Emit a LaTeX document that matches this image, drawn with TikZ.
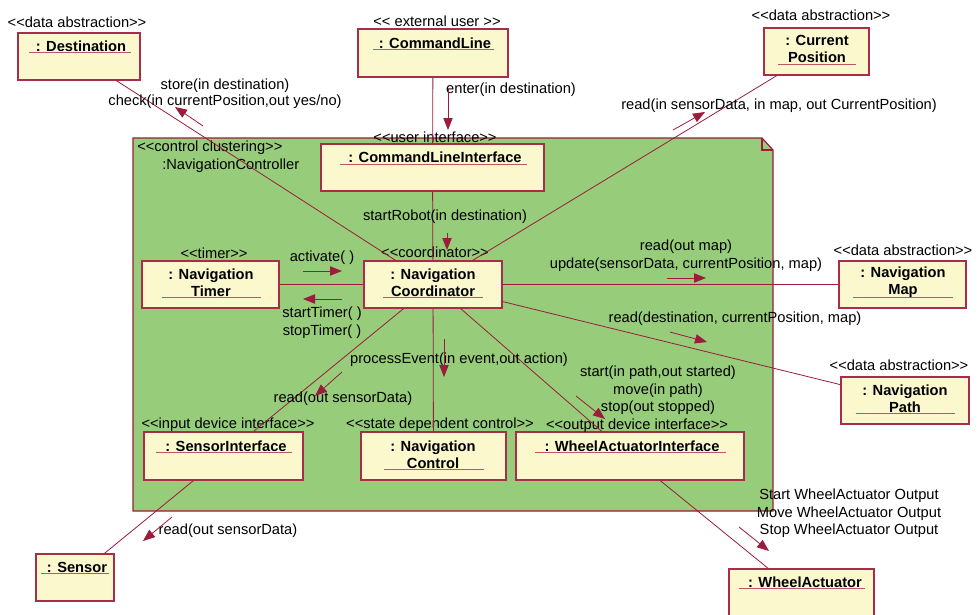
\documentclass[tikz,border=0pt]{standalone}
\usepackage{fontspec}
\newfontfamily\labfont{Liberation Sans}
\usetikzlibrary{arrows.meta,fit}
\definecolor{edgered}{RGB}{155,28,60}
\definecolor{boxline}{RGB}{168,45,75}
\definecolor{ulred}{RGB}{190,85,105}
\definecolor{boxfill}{RGB}{251,248,206}
\definecolor{pkgfill}{RGB}{150,204,122}
\begin{document}
\begin{tikzpicture}[x=0.75pt,y=-0.75pt,
  font=\labfont\fontsize{11}{13}\selectfont,
  obj/.style={draw=boxline, fill=boxfill, line width=0.9pt, inner sep=0pt},
  conn/.style={draw=edgered, line width=0.6pt},
  msg/.style={draw=edgered, line width=0.6pt, -{Triangle[length=9pt,width=7pt]}},
  stereo/.style={inner sep=0pt},
  lbl/.style={inner sep=0pt, align=center},
  oname/.style={inner sep=0pt, align=center, font=\labfont\bfseries\fontsize{11}{12.8}\selectfont},
  ul/.style={draw=ulred, line width=0.6pt}]
\useasboundingbox (0,0) rectangle (980,614);

% package
\draw[draw=edgered, fill=pkgfill, line width=0.9pt]
  (133,138) -- (762,138) -- (773,150) -- (773,511) -- (133,511) -- cycle;
\draw[draw=edgered, line width=0.9pt] (762,138) -- (762,150) -- (773,150);
\node[inner sep=0pt, fit={(133,138) (773,511)}] (pkg) {};
\node[stereo, anchor=west] (pkgS) at (137,148) {<<control clustering>>};
\node[stereo, anchor=west] (pkgN) at (162,166) {:NavigationController};

% object boxes
\node[obj, fit={(18,33) (140,80)}] (dest) {};
\node[obj, fit={(358,29) (508,77)}] (cmd) {};
\node[obj, fit={(764,28) (869,75)}] (curpos) {};
\node[obj, fit={(321,144) (544,191)}] (cli) {};
\node[obj, fit={(142,261) (279,308)}] (timer) {};
\node[obj, fit={(364,261) (502,308)}] (coord) {};
\node[obj, fit={(839,261) (966,308)}] (map) {};
\node[obj, fit={(841,377) (969,424)}] (path) {};
\node[obj, fit={(144,432) (303,480)}] (sensI) {};
\node[obj, fit={(361,432) (506,480)}] (navctl) {};
\node[obj, fit={(516,432) (744,480)}] (wai) {};
\node[obj, fit={(36,554) (114,601)}] (sensor) {};
\node[obj, fit={(729,569) (874,622)}] (wheel) {};

% names
\node[oname] (destN) at (81,46) {: Destination};
\node[oname] (cmdN) at (435,43) {: CommandLine};
\node[oname] (curposN) at (817,49) {: Current\\Position};
\node[oname] (cliN) at (435,157) {: CommandLineInterface};
\node[oname] (timerN) at (211,282.5) {: Navigation\\Timer};
\node[oname] (coordN) at (433,282.5) {: Navigation\\Coordinator};
\node[oname] (mapN) at (903,282.5) {: Navigation\\Map};
\node[oname] (pathN) at (905,399) {: Navigation\\Path};
\node[oname] (sensIN) at (226,446) {: SensorInterface};
\node[oname] (navctlN) at (433,455) {: Navigation\\Control};
\node[oname] (waiN) at (632,446) {: WheelActuatorInterface};
\node[oname] (sensorN) at (77,567) {: Sensor};
\node[oname] (wheelN) at (805,582) {: WheelActuator};

% underlines
\draw[ul] (29,52) -- (131,52);
\draw[ul] (373,49) -- (494,49);
\draw[ul] (778,64) -- (856,64);
\draw[ul] (340,164) -- (527,164);
\draw[ul] (162,297) -- (261,297);
\draw[ul] (383,297) -- (483,297);
\draw[ul] (853,297) -- (953,297);
\draw[ul] (856,413) -- (955,413);
\draw[ul] (156,452) -- (292,452);
\draw[ul] (384,469) -- (484,469);
\draw[ul] (535,452) -- (726,452);
\draw[ul] (41,573) -- (109,573);
\draw[ul] (739,588) -- (865,588);

% stereotypes
\node[stereo] (destS) at (77,22) {<<data abstraction>>};
\node[stereo] (cmdS) at (437,21) {<< external user >>};
\node[stereo] (curposS) at (821,15) {<<data abstraction>>};
\node[stereo] (cliS) at (435,137) {<<user interface>>};
\node[stereo] (timerS) at (214,253) {<<timer>>};
\node[stereo] (coordS) at (435,252) {<<coordinator>>};
\node[stereo] (mapS) at (903,250) {<<data abstraction>>};
\node[stereo] (pathS) at (899,365) {<<data abstraction>>};
\node[stereo] (sensIS) at (228,425) {<<input device interface>>};
\node[stereo] (navctlS) at (440,425) {<<state dependent control>>};
\node[stereo] (waiS) at (637,426) {<<output device interface>>};

% connectors
\draw[conn] (dest) -- (coord);
\draw[conn] (cmd) -- (cli);
\draw[conn] (cli) -- (coord);
\draw[conn] (coord) -- (curpos);
\draw[conn] (timer) -- (coord);
\draw[conn] (coord) -- (map);
\draw[conn] (coord) -- (path);
\draw[conn] (coord) -- (sensI);
\draw[conn] (coord) -- (navctl);
\draw[conn] (coord) -- (wai);
\draw[conn] (sensI) -- (sensor);
\draw[conn] (wai) -- (wheel);

% message labels
\node[lbl] (mDest1) at (225,86) {store(in destination)};
\node[lbl] (mDest2) at (225,102) {check(in currentPosition,out yes/no)};
\node[lbl] (mEnter) at (511,90) {enter(in destination)};
\node[lbl] (mCur) at (779,106) {read(in sensorData, in map, out CurrentPosition)};
\node[lbl] (mRobot) at (445,217) {startRobot(in destination)};
\node[lbl] (mAct) at (322,258) {activate( )};
\node[lbl] (mTim1) at (322,314) {startTimer( )};
\node[lbl] (mTim2) at (322,332) {stopTimer( )};
\node[lbl] (mMap1) at (686,247) {read(out map)};
\node[lbl] (mMap2) at (686,265) {update(sensorData, currentPosition, map)};
\node[lbl] (mPath) at (735,319) {read(destination, currentPosition, map)};
\node[lbl] (mProc) at (459,360) {processEvent(in event,out action)};
\node[lbl] (mSensI) at (343,399) {read(out sensorData)};
\node[lbl] (mWai1) at (658,373) {start(in path,out started)};
\node[lbl] (mWai2) at (658,390.5) {move(in path)};
\node[lbl] (mWai3) at (658,408) {stop(out stopped)};
\node[lbl] (mSens) at (228,531) {read(out sensorData)};
\node[lbl] (mWh1) at (849,496) {Start WheelActuator Output};
\node[lbl] (mWh2) at (849,513.5) {Move WheelActuator Output};
\node[lbl] (mWh3) at (849,531) {Stop WheelActuator Output};

% message arrows
\coordinate (aDs) at (203,126); \coordinate (aDe) at (175,107);
\coordinate (aEs) at (448,89);  \coordinate (aEe) at (448,130);
\coordinate (aRs) at (447,233); \coordinate (aRe) at (447,250);
\coordinate (aCs) at (673,130); \coordinate (aCe) at (705,112);
\coordinate (aAs) at (303,271); \coordinate (aAe) at (342,271);
\coordinate (aTs) at (342,299); \coordinate (aTe) at (303,299);
\coordinate (aMs) at (667,278); \coordinate (aMe) at (706,278);
\coordinate (aPs) at (670,332); \coordinate (aPe) at (707,342);
\coordinate (aVs) at (444,339); \coordinate (aVe) at (444,377);
\coordinate (aIs) at (342,372); \coordinate (aIe) at (315,396);
\coordinate (aWs) at (576,396); \coordinate (aWe) at (605,419);
\coordinate (aSs) at (172,517); \coordinate (aSe) at (143,541);
\coordinate (aHs) at (739,527); \coordinate (aHe) at (769,551);
\draw[msg] (aDs) -- (aDe);
\draw[msg] (aEs) -- (aEe);
\draw[msg] (aRs) -- (aRe);
\draw[msg] (aCs) -- (aCe);
\draw[msg] (aAs) -- (aAe);
\draw[msg] (aTs) -- (aTe);
\draw[msg] (aMs) -- (aMe);
\draw[msg] (aPs) -- (aPe);
\draw[msg] (aVs) -- (aVe);
\draw[msg] (aIs) -- (aIe);
\draw[msg] (aWs) -- (aWe);
\draw[msg] (aSs) -- (aSe);
\draw[msg] (aHs) -- (aHe);
\end{tikzpicture}
\end{document}
